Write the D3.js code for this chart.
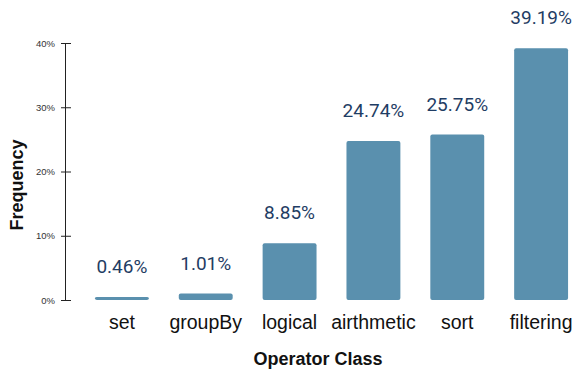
<!DOCTYPE html>
<html>
<head>
<meta charset="utf-8">
<script src="https://cdn.jsdelivr.net/npm/d3@7"></script>
<style>
  body { margin: 0; background: #fff; }
  .tick text { font-family: "Liberation Sans", Arial, sans-serif; font-size: 9.5px; fill: #333; }
</style>
</head>
<body>
<div id="chart"></div>
<script>
// chart data
const categories = ["set", "groupBy", "logical", "airthmetic", "sort", "filtering"];
const values = [0.46, 1.01, 8.85, 24.74, 25.75, 39.19];
const yTicks = [0, 10, 20, 30, 40];

const width = 583;
const height = 370;
const axisX = 65;
const y0 = 300;
const y1 = 43;

const svg = d3.select("#chart")
    .append("svg")
    .attr("width", width)
    .attr("height", height);

const x = d3.scaleBand()
    .domain(categories)
    .range([axisX, 598])
    .paddingInner(0.357)
    .paddingOuter(0.357);

const y = d3.scaleLinear()
    .domain([0, 40])
    .range([y0, y1]);

// y axis, ticks cross the line a little
const yAxis = svg.append("g")
    .attr("transform", `translate(${axisX},0)`)
    .call(d3.axisLeft(y)
        .tickValues(yTicks)
        .tickSizeOuter(0)
        .tickSize(4)
        .tickPadding(6)
        .tickFormat(d => d + "%"));
yAxis.select(".domain").attr("stroke", "#222");
yAxis.selectAll(".tick line").attr("x1", 6).attr("stroke", "#222");

// bars
svg.selectAll("rect.bar")
    .data(values)
    .enter().append("rect")
    .attr("class", "bar")
    .attr("x", (d, i) => x(categories[i]))
    .attr("y", d => y(d))
    .attr("width", x.bandwidth())
    .attr("height", d => y0 - y(d))
    .attr("rx", 2)
    .attr("fill", "#5a90ae");

// value labels
svg.selectAll("text.val")
    .data(values)
    .enter().append("text")
    .attr("class", "val")
    .attr("x", (d, i) => x(categories[i]) + x.bandwidth() / 2)
    .attr("y", d => y(d) - 24)
    .attr("text-anchor", "middle")
    .attr("font-family", "Roboto, sans-serif")
    .attr("font-size", 19)
    .attr("fill", "#1f3d64")
    .text(d => d.toFixed(2) + "%");

// category labels
svg.selectAll("text.cat")
    .data(categories)
    .enter().append("text")
    .attr("class", "cat")
    .attr("x", d => x(d) + x.bandwidth() / 2)
    .attr("y", 329)
    .attr("text-anchor", "middle")
    .attr("font-family", "Liberation Sans, Arial, sans-serif")
    .attr("font-size", 19.5)
    .attr("fill", "#111")
    .text(d => d);

// axis titles
svg.append("text")
    .attr("x", 318)
    .attr("y", 365)
    .attr("text-anchor", "middle")
    .attr("font-family", "Liberation Sans, Arial, sans-serif")
    .attr("font-weight", "bold")
    .attr("font-size", 18)
    .attr("fill", "#111")
    .text("Operator Class");

svg.append("text")
    .attr("transform", "translate(23,185) rotate(-90)")
    .attr("text-anchor", "middle")
    .attr("font-family", "Liberation Sans, Arial, sans-serif")
    .attr("font-weight", "bold")
    .attr("font-size", 18)
    .attr("fill", "#111")
    .text("Frequency");
</script>
</body>
</html>
